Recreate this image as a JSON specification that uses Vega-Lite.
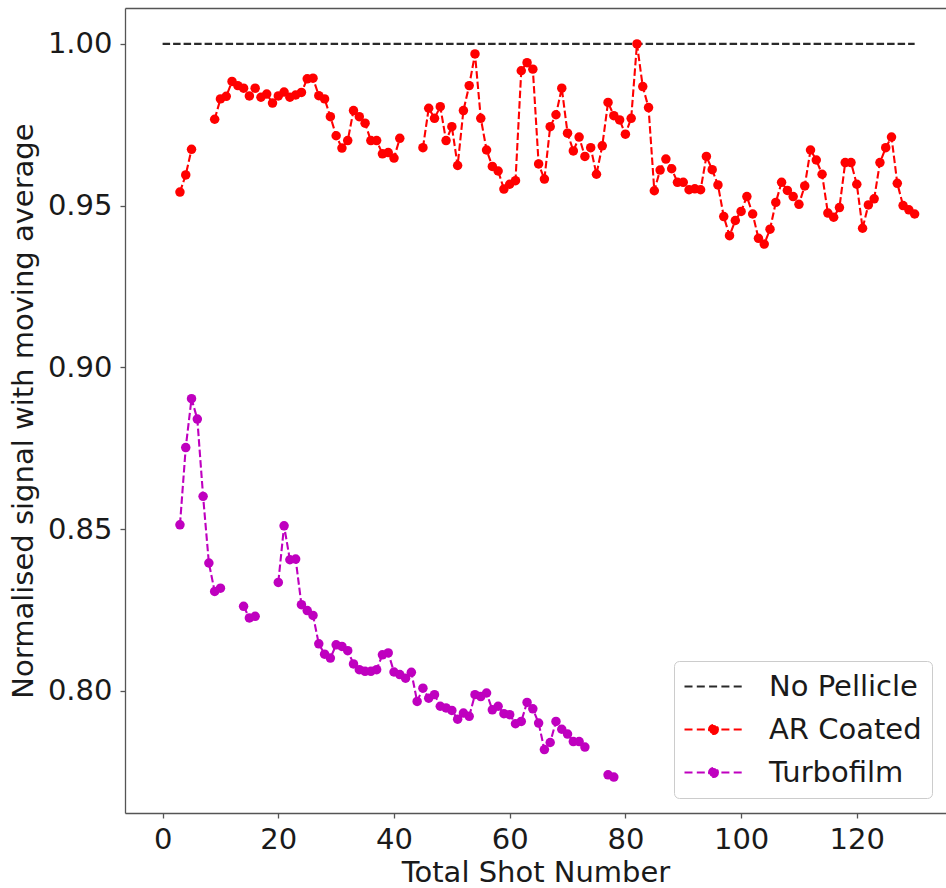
{
  "$schema": "https://vega.github.io/schema/vega-lite/v6.json",
  "width": 821,
  "height": 805,
  "autosize": {"type": "none"},
  "padding": {"left": 125, "top": 8, "right": 0, "bottom": 75},
  "background": "white",
  "config": {
    "font": "DejaVu Sans",
    "view": {"stroke": null},
    "axis": {
      "grid": false,
      "domainColor": "#555555",
      "domainWidth": 1.3,
      "tickColor": "#555555",
      "tickWidth": 1.3,
      "tickSize": 5,
      "labelFont": "DejaVu Sans",
      "titleFont": "DejaVu Sans",
      "labelFontSize": 29,
      "titleFontSize": 29,
      "titleFontWeight": "normal",
      "labelColor": "#1a1a1a",
      "titleColor": "#1a1a1a"
    }
  },
  "datasets": {
    "shots": [
      {"series": "No Pellicle", "shot": 0, "signal": 1.0},
      {"series": "No Pellicle", "shot": 130, "signal": 1.0},
      {"series": "AR Coated", "shot": 3, "signal": 0.9542},
      {"series": "AR Coated", "shot": 4, "signal": 0.9595},
      {"series": "AR Coated", "shot": 5, "signal": 0.9674},
      {"series": "AR Coated", "shot": 7, "signal": null},
      {"series": "AR Coated", "shot": 9, "signal": 0.9767},
      {"series": "AR Coated", "shot": 10, "signal": 0.9830},
      {"series": "AR Coated", "shot": 11, "signal": 0.9838},
      {"series": "AR Coated", "shot": 12, "signal": 0.9884},
      {"series": "AR Coated", "shot": 13, "signal": 0.9871},
      {"series": "AR Coated", "shot": 14, "signal": 0.9863},
      {"series": "AR Coated", "shot": 15, "signal": 0.9839},
      {"series": "AR Coated", "shot": 16, "signal": 0.9863},
      {"series": "AR Coated", "shot": 17, "signal": 0.9835},
      {"series": "AR Coated", "shot": 18, "signal": 0.9845},
      {"series": "AR Coated", "shot": 19, "signal": 0.9817},
      {"series": "AR Coated", "shot": 20, "signal": 0.9839},
      {"series": "AR Coated", "shot": 21, "signal": 0.9851},
      {"series": "AR Coated", "shot": 22, "signal": 0.9835},
      {"series": "AR Coated", "shot": 23, "signal": 0.9842},
      {"series": "AR Coated", "shot": 24, "signal": 0.9850},
      {"series": "AR Coated", "shot": 25, "signal": 0.9892},
      {"series": "AR Coated", "shot": 26, "signal": 0.9894},
      {"series": "AR Coated", "shot": 27, "signal": 0.9840},
      {"series": "AR Coated", "shot": 28, "signal": 0.9830},
      {"series": "AR Coated", "shot": 29, "signal": 0.9775},
      {"series": "AR Coated", "shot": 30, "signal": 0.9716},
      {"series": "AR Coated", "shot": 31, "signal": 0.9678},
      {"series": "AR Coated", "shot": 32, "signal": 0.9701},
      {"series": "AR Coated", "shot": 33, "signal": 0.9794},
      {"series": "AR Coated", "shot": 34, "signal": 0.9775},
      {"series": "AR Coated", "shot": 35, "signal": 0.9755},
      {"series": "AR Coated", "shot": 36, "signal": 0.9701},
      {"series": "AR Coated", "shot": 37, "signal": 0.9701},
      {"series": "AR Coated", "shot": 38, "signal": 0.9660},
      {"series": "AR Coated", "shot": 39, "signal": 0.9664},
      {"series": "AR Coated", "shot": 40, "signal": 0.9647},
      {"series": "AR Coated", "shot": 41, "signal": 0.9708},
      {"series": "AR Coated", "shot": 43, "signal": null},
      {"series": "AR Coated", "shot": 45, "signal": 0.9679},
      {"series": "AR Coated", "shot": 46, "signal": 0.9801},
      {"series": "AR Coated", "shot": 47, "signal": 0.9770},
      {"series": "AR Coated", "shot": 48, "signal": 0.9806},
      {"series": "AR Coated", "shot": 49, "signal": 0.9701},
      {"series": "AR Coated", "shot": 50, "signal": 0.9744},
      {"series": "AR Coated", "shot": 51, "signal": 0.9624},
      {"series": "AR Coated", "shot": 52, "signal": 0.9794},
      {"series": "AR Coated", "shot": 53, "signal": 0.9871},
      {"series": "AR Coated", "shot": 54, "signal": 0.9969},
      {"series": "AR Coated", "shot": 55, "signal": 0.9770},
      {"series": "AR Coated", "shot": 56, "signal": 0.9672},
      {"series": "AR Coated", "shot": 57, "signal": 0.9621},
      {"series": "AR Coated", "shot": 58, "signal": 0.9607},
      {"series": "AR Coated", "shot": 59, "signal": 0.9551},
      {"series": "AR Coated", "shot": 60, "signal": 0.9566},
      {"series": "AR Coated", "shot": 61, "signal": 0.9577},
      {"series": "AR Coated", "shot": 62, "signal": 0.9917},
      {"series": "AR Coated", "shot": 63, "signal": 0.9942},
      {"series": "AR Coated", "shot": 64, "signal": 0.9922},
      {"series": "AR Coated", "shot": 65, "signal": 0.9629},
      {"series": "AR Coated", "shot": 66, "signal": 0.9582},
      {"series": "AR Coated", "shot": 67, "signal": 0.9744},
      {"series": "AR Coated", "shot": 68, "signal": 0.9781},
      {"series": "AR Coated", "shot": 69, "signal": 0.9863},
      {"series": "AR Coated", "shot": 70, "signal": 0.9724},
      {"series": "AR Coated", "shot": 71, "signal": 0.9669},
      {"series": "AR Coated", "shot": 72, "signal": 0.9712},
      {"series": "AR Coated", "shot": 73, "signal": 0.9652},
      {"series": "AR Coated", "shot": 74, "signal": 0.9679},
      {"series": "AR Coated", "shot": 75, "signal": 0.9597},
      {"series": "AR Coated", "shot": 76, "signal": 0.9685},
      {"series": "AR Coated", "shot": 77, "signal": 0.9819},
      {"series": "AR Coated", "shot": 78, "signal": 0.9778},
      {"series": "AR Coated", "shot": 79, "signal": 0.9765},
      {"series": "AR Coated", "shot": 80, "signal": 0.9721},
      {"series": "AR Coated", "shot": 81, "signal": 0.9770},
      {"series": "AR Coated", "shot": 82, "signal": 1.0000},
      {"series": "AR Coated", "shot": 83, "signal": 0.9868},
      {"series": "AR Coated", "shot": 84, "signal": 0.9803},
      {"series": "AR Coated", "shot": 85, "signal": 0.9546},
      {"series": "AR Coated", "shot": 86, "signal": 0.9610},
      {"series": "AR Coated", "shot": 87, "signal": 0.9644},
      {"series": "AR Coated", "shot": 88, "signal": 0.9614},
      {"series": "AR Coated", "shot": 89, "signal": 0.9572},
      {"series": "AR Coated", "shot": 90, "signal": 0.9572},
      {"series": "AR Coated", "shot": 91, "signal": 0.9549},
      {"series": "AR Coated", "shot": 92, "signal": 0.9552},
      {"series": "AR Coated", "shot": 93, "signal": 0.9549},
      {"series": "AR Coated", "shot": 94, "signal": 0.9652},
      {"series": "AR Coated", "shot": 95, "signal": 0.9611},
      {"series": "AR Coated", "shot": 96, "signal": 0.9564},
      {"series": "AR Coated", "shot": 97, "signal": 0.9466},
      {"series": "AR Coated", "shot": 98, "signal": 0.9407},
      {"series": "AR Coated", "shot": 99, "signal": 0.9454},
      {"series": "AR Coated", "shot": 100, "signal": 0.9482},
      {"series": "AR Coated", "shot": 101, "signal": 0.9528},
      {"series": "AR Coated", "shot": 102, "signal": 0.9474},
      {"series": "AR Coated", "shot": 103, "signal": 0.9399},
      {"series": "AR Coated", "shot": 104, "signal": 0.9381},
      {"series": "AR Coated", "shot": 105, "signal": 0.9427},
      {"series": "AR Coated", "shot": 106, "signal": 0.9510},
      {"series": "AR Coated", "shot": 107, "signal": 0.9572},
      {"series": "AR Coated", "shot": 108, "signal": 0.9547},
      {"series": "AR Coated", "shot": 109, "signal": 0.9528},
      {"series": "AR Coated", "shot": 110, "signal": 0.9504},
      {"series": "AR Coated", "shot": 111, "signal": 0.9561},
      {"series": "AR Coated", "shot": 112, "signal": 0.9672},
      {"series": "AR Coated", "shot": 113, "signal": 0.9641},
      {"series": "AR Coated", "shot": 114, "signal": 0.9597},
      {"series": "AR Coated", "shot": 115, "signal": 0.9477},
      {"series": "AR Coated", "shot": 116, "signal": 0.9464},
      {"series": "AR Coated", "shot": 117, "signal": 0.9494},
      {"series": "AR Coated", "shot": 118, "signal": 0.9633},
      {"series": "AR Coated", "shot": 119, "signal": 0.9633},
      {"series": "AR Coated", "shot": 120, "signal": 0.9566},
      {"series": "AR Coated", "shot": 121, "signal": 0.9430},
      {"series": "AR Coated", "shot": 122, "signal": 0.9502},
      {"series": "AR Coated", "shot": 123, "signal": 0.9521},
      {"series": "AR Coated", "shot": 124, "signal": 0.9633},
      {"series": "AR Coated", "shot": 125, "signal": 0.9679},
      {"series": "AR Coated", "shot": 126, "signal": 0.9712},
      {"series": "AR Coated", "shot": 127, "signal": 0.9569},
      {"series": "AR Coated", "shot": 128, "signal": 0.9500},
      {"series": "AR Coated", "shot": 129, "signal": 0.9487},
      {"series": "AR Coated", "shot": 130, "signal": 0.9474},
      {"series": "Turbofilm", "shot": 3, "signal": 0.8513},
      {"series": "Turbofilm", "shot": 4, "signal": 0.8752},
      {"series": "Turbofilm", "shot": 5, "signal": 0.8903},
      {"series": "Turbofilm", "shot": 6, "signal": 0.8840},
      {"series": "Turbofilm", "shot": 7, "signal": 0.8601},
      {"series": "Turbofilm", "shot": 8, "signal": 0.8395},
      {"series": "Turbofilm", "shot": 9, "signal": 0.8307},
      {"series": "Turbofilm", "shot": 10, "signal": 0.8317},
      {"series": "Turbofilm", "shot": 12, "signal": null},
      {"series": "Turbofilm", "shot": 14, "signal": 0.8261},
      {"series": "Turbofilm", "shot": 15, "signal": 0.8225},
      {"series": "Turbofilm", "shot": 16, "signal": 0.8230},
      {"series": "Turbofilm", "shot": 18, "signal": null},
      {"series": "Turbofilm", "shot": 20, "signal": 0.8335},
      {"series": "Turbofilm", "shot": 21, "signal": 0.8510},
      {"series": "Turbofilm", "shot": 22, "signal": 0.8405},
      {"series": "Turbofilm", "shot": 23, "signal": 0.8407},
      {"series": "Turbofilm", "shot": 24, "signal": 0.8266},
      {"series": "Turbofilm", "shot": 25, "signal": 0.8248},
      {"series": "Turbofilm", "shot": 26, "signal": 0.8233},
      {"series": "Turbofilm", "shot": 27, "signal": 0.8145},
      {"series": "Turbofilm", "shot": 28, "signal": 0.8113},
      {"series": "Turbofilm", "shot": 29, "signal": 0.8101},
      {"series": "Turbofilm", "shot": 30, "signal": 0.8142},
      {"series": "Turbofilm", "shot": 31, "signal": 0.8137},
      {"series": "Turbofilm", "shot": 32, "signal": 0.8124},
      {"series": "Turbofilm", "shot": 33, "signal": 0.8083},
      {"series": "Turbofilm", "shot": 34, "signal": 0.8065},
      {"series": "Turbofilm", "shot": 35, "signal": 0.8060},
      {"series": "Turbofilm", "shot": 36, "signal": 0.8060},
      {"series": "Turbofilm", "shot": 37, "signal": 0.8065},
      {"series": "Turbofilm", "shot": 38, "signal": 0.8111},
      {"series": "Turbofilm", "shot": 39, "signal": 0.8117},
      {"series": "Turbofilm", "shot": 40, "signal": 0.8058},
      {"series": "Turbofilm", "shot": 41, "signal": 0.8050},
      {"series": "Turbofilm", "shot": 42, "signal": 0.8039},
      {"series": "Turbofilm", "shot": 43, "signal": 0.8057},
      {"series": "Turbofilm", "shot": 44, "signal": 0.7967},
      {"series": "Turbofilm", "shot": 45, "signal": 0.8008},
      {"series": "Turbofilm", "shot": 46, "signal": 0.7977},
      {"series": "Turbofilm", "shot": 47, "signal": 0.7988},
      {"series": "Turbofilm", "shot": 48, "signal": 0.7952},
      {"series": "Turbofilm", "shot": 49, "signal": 0.7947},
      {"series": "Turbofilm", "shot": 50, "signal": 0.7939},
      {"series": "Turbofilm", "shot": 51, "signal": 0.7912},
      {"series": "Turbofilm", "shot": 52, "signal": 0.7931},
      {"series": "Turbofilm", "shot": 53, "signal": 0.7921},
      {"series": "Turbofilm", "shot": 54, "signal": 0.7988},
      {"series": "Turbofilm", "shot": 55, "signal": 0.7982},
      {"series": "Turbofilm", "shot": 56, "signal": 0.7993},
      {"series": "Turbofilm", "shot": 57, "signal": 0.7941},
      {"series": "Turbofilm", "shot": 58, "signal": 0.7952},
      {"series": "Turbofilm", "shot": 59, "signal": 0.7929},
      {"series": "Turbofilm", "shot": 60, "signal": 0.7926},
      {"series": "Turbofilm", "shot": 61, "signal": 0.7898},
      {"series": "Turbofilm", "shot": 62, "signal": 0.7905},
      {"series": "Turbofilm", "shot": 63, "signal": 0.7964},
      {"series": "Turbofilm", "shot": 64, "signal": 0.7944},
      {"series": "Turbofilm", "shot": 65, "signal": 0.7900},
      {"series": "Turbofilm", "shot": 66, "signal": 0.7818},
      {"series": "Turbofilm", "shot": 67, "signal": 0.7840},
      {"series": "Turbofilm", "shot": 68, "signal": 0.7905},
      {"series": "Turbofilm", "shot": 69, "signal": 0.7881},
      {"series": "Turbofilm", "shot": 70, "signal": 0.7866},
      {"series": "Turbofilm", "shot": 71, "signal": 0.7843},
      {"series": "Turbofilm", "shot": 72, "signal": 0.7843},
      {"series": "Turbofilm", "shot": 73, "signal": 0.7826},
      {"series": "Turbofilm", "shot": 75, "signal": null},
      {"series": "Turbofilm", "shot": 77, "signal": 0.7740},
      {"series": "Turbofilm", "shot": 78, "signal": 0.7733}
    ]
  },
  "data": {"name": "shots"},
  "encoding": {
    "y": {
      "field": "signal",
      "type": "quantitative",
      "scale": {"domain": [0.7622, 1.0111], "nice": false, "zero": false},
      "axis": {
        "title": "Normalised signal with moving average",
        "values": [0.8, 0.85, 0.9, 0.95, 1.0],
        "format": ".2f",
        "labelPadding": 8,
        "titlePadding": 8.5
      }
    },
    "color": {
      "field": "series",
      "type": "nominal",
      "scale": {
        "domain": ["No Pellicle", "AR Coated", "Turbofilm"],
        "range": ["#2a2a2a", "#ff0000", "#bf00bf"]
      },
      "legend": {
        "title": null,
        "orient": "none",
        "legendX": 549,
        "legendY": 653,
        "fillColor": "white",
        "strokeColor": "#cccccc",
        "cornerRadius": 5,
        "padding": 10,
        "symbolSize": 841,
        "symbolStrokeWidth": 2,
        "symbolOffset": 14,
        "labelOffset": 40,
        "labelFontSize": 29,
        "labelColor": "#1a1a1a",
        "labelLimit": 400,
        "rowPadding": 12,
        "encode": {
          "symbols": {
            "update": {
              "shape": {"signal": "datum.value === 'No Pellicle' ? 'M-2,0L2,0' : 'M-2,0L2,0M0.31,0A0.31,0.31 0 1,1 -0.31,0A0.31,0.31 0 1,1 0.31,0Z'"},
              "fill": {"scale": "color", "field": "value"},
              "stroke": {"scale": "color", "field": "value"},
              "strokeWidth": {"value": 2},
              "strokeDash": {"value": [8, 4.3]},
              "opacity": {"value": 1}
            }
          }
        }
      }
    }
  },
  "layer": [
    {
      "mark": {"type": "line", "strokeDash": [7.5, 3], "strokeWidth": 2.1, "invalid": "break-paths-show-domains"},
      "encoding": {
        "x": {
          "field": "shot",
          "type": "quantitative",
          "scale": {"domain": [-6.5, 135.42], "nice": false, "zero": false},
          "axis": {
            "title": "Total Shot Number",
            "values": [0, 20, 40, 60, 80, 100, 120],
            "labelPadding": 7,
            "titlePadding": 4
          }
        }
      }
    },
    {
      "transform": [{"filter": "datum.series !== 'No Pellicle' && isValid(datum.signal)"}],
      "mark": {"type": "point", "filled": true, "size": 90, "opacity": 1},
      "encoding": {
        "x": {
          "field": "shot",
          "type": "quantitative",
          "scale": {"domain": [-6.5, 135.42], "nice": false, "zero": false},
          "axis": {"orient": "top", "labels": false, "ticks": false, "title": null, "domain": true}
        }
      }
    }
  ],
  "resolve": {"axis": {"x": "independent"}}
}
